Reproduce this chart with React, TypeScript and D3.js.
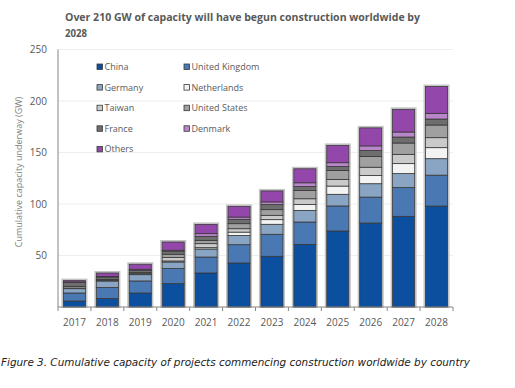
import * as d3 from 'd3';

const years = ['2017', '2018', '2019', '2020', '2021', '2022', '2023', '2024', '2025', '2026', '2027', '2028'];
const china = [5.8, 8.2, 13.6, 22.7, 33, 42.7, 49.2, 60.8, 73.8, 81.5, 88, 98];
const unitedKingdom = [7.8, 10.7, 11.7, 14.6, 15.5, 17.8, 21.4, 21.7, 24.3, 25.2, 27.9, 30];
const germany = [4.2, 6.4, 6.1, 6.4, 7.8, 9, 9.7, 11.3, 11.3, 13, 13.6, 16];
const netherlands = [0.2, 0.2, 0.3, 1, 1.3, 3.2, 4.5, 5.8, 8, 8, 9.7, 10.7];
const taiwan = [0.3, 0.5, 0.7, 3.3, 3.9, 3.3, 4.2, 5.5, 6.5, 8, 9, 9.7];
const unitedStates = [1.5, 0.7, 1, 3.2, 3.2, 4.9, 5.5, 8, 8.7, 10.4, 11, 12.3];
const france = [4.2, 2.3, 2.2, 2.9, 3.9, 4.2, 4.9, 3.9, 3.9, 5.8, 5.8, 5.8];
const denmark = [0.3, 0.7, 1, 1, 2.6, 2.2, 2.6, 3.6, 3.6, 4.5, 4.9, 5.5];
const others = [1.3, 3.3, 4.9, 8, 9, 10.4, 10.7, 13.6, 16.8, 17.5, 22, 26];
const yTicks = [50, 100, 150, 200, 250];

const SERIES = [
  { name: 'China', values: china, color: '#0c4f9e' },
  { name: 'United Kingdom', values: unitedKingdom, color: '#4a78b2' },
  { name: 'Germany', values: germany, color: '#8aa5c4' },
  { name: 'Netherlands', values: netherlands, color: '#f3f3f3' },
  { name: 'Taiwan', values: taiwan, color: '#cacaca' },
  { name: 'United States', values: unitedStates, color: '#a0a0a0' },
  { name: 'France', values: france, color: '#6e6e6e' },
  { name: 'Denmark', values: denmark, color: '#b987c9' },
  { name: 'Others', values: others, color: '#9447ab' },
];

const TEXT = '#595959';
const FONT = "'Open Sans', 'DejaVu Sans', sans-serif";

export default function App() {
  const margin = { left: 58, right: 453, top: 49.5, bottom: 307 };
  const x = d3.scaleBand<string>().domain(years).range([margin.left, margin.right]).paddingInner(0.33).paddingOuter(0.165);
  const y = d3.scaleLinear().domain([0, 250]).range([margin.bottom, margin.top]);

  const rows = years.map((yr, i) => {
    const r: Record<string, number | string> = { year: yr };
    SERIES.forEach((s) => { r[s.name] = s.values[i]; });
    return r;
  });
  const stacked = d3.stack<Record<string, number | string>>().keys(SERIES.map((s) => s.name))(rows as any);
  const totals = years.map((_, i) => d3.sum(SERIES, (s) => s.values[i]));
  const step = x.step();

  return (
    <svg width={515} height={388} style={{ position: 'absolute', left: 0, top: 0, background: '#fff' }}>
      <text x={65} y={21} fontFamily={FONT} fontSize={11.2} fontWeight={700} fill={TEXT}
        textLength={355} lengthAdjust="spacingAndGlyphs">
        Over 210 GW of capacity will have begun construction worldwide by
      </text>
      <text x={65} y={37} fontFamily={FONT} fontSize={11.2} fontWeight={700} fill={TEXT}
        textLength={22} lengthAdjust="spacingAndGlyphs">2028</text>

      {yTicks.map((t) => (
        <g key={t}>
          <line x1={margin.left} x2={margin.right} y1={y(t)} y2={y(t)} stroke="#eeeeee" strokeWidth={1} />
          <text x={47} y={y(t) + 3.5} textAnchor="end" fontFamily={FONT} fontSize={10} fill={TEXT}>{t}</text>
        </g>
      ))}

      <text transform={`translate(22,172) rotate(-90)`} textAnchor="middle" fontFamily={FONT} fontSize={9} fill="#7f7f7f">
        Cumulative capacity underway (GW)
      </text>

      {years.map((yr, i) => (
        <rect key={yr} x={x(yr)! - 1} y={y(totals[i]) - 1} width={x.bandwidth() + 2} height={y(0) - y(totals[i]) + 1}
          fill="none" stroke="#c4c4c4" strokeWidth={2} />
      ))}
      {stacked.map((layer, li) => (
        <g key={SERIES[li].name}>
          {layer.map((d, i) => (
            <rect key={years[i]} x={x(years[i])} y={y(d[1])} width={x.bandwidth()} height={Math.max(0, y(d[0]) - y(d[1]))}
              fill={SERIES[li].color} stroke="#383838" strokeWidth={0.8} />
          ))}
        </g>
      ))}

      <line x1={margin.left} x2={margin.left} y1={margin.top} y2={margin.bottom} stroke="#868686" />
      <line x1={margin.left} x2={margin.right} y1={margin.bottom} y2={margin.bottom} stroke="#868686" />
      {d3.range(years.length + 1).map((k) => (
        <line key={k} x1={margin.left + k * step} x2={margin.left + k * step} y1={margin.bottom} y2={margin.bottom + 4} stroke="#868686" />
      ))}
      {years.map((yr) => (
        <text key={yr} x={x(yr)! + x.bandwidth() / 2} y={326} textAnchor="middle" fontFamily={FONT} fontSize={10} fill={TEXT}>{yr}</text>
      ))}

      {SERIES.map((s, i) => {
        const col = i % 2;
        const row = Math.floor(i / 2);
        const lx = col === 0 ? 97 : 184;
        const ly = 67 + row * 20.6;
        return (
          <g key={s.name}>
            <rect x={lx} y={ly - 3} width={5.5} height={5.5} fill={s.color} stroke="#383838" strokeWidth={0.8} />
            <text x={lx + 7.5} y={ly + 3} fontFamily={FONT} fontSize={9} fill={TEXT}>{s.name}</text>
          </g>
        );
      })}

      <text x={1} y={366} fontFamily="'DejaVu Sans', sans-serif" fontStyle="italic" fontSize={10.5} fill="#222"
        textLength={469} lengthAdjust="spacingAndGlyphs">
        Figure 3. Cumulative capacity of projects commencing construction worldwide by country
      </text>
    </svg>
  );
}
